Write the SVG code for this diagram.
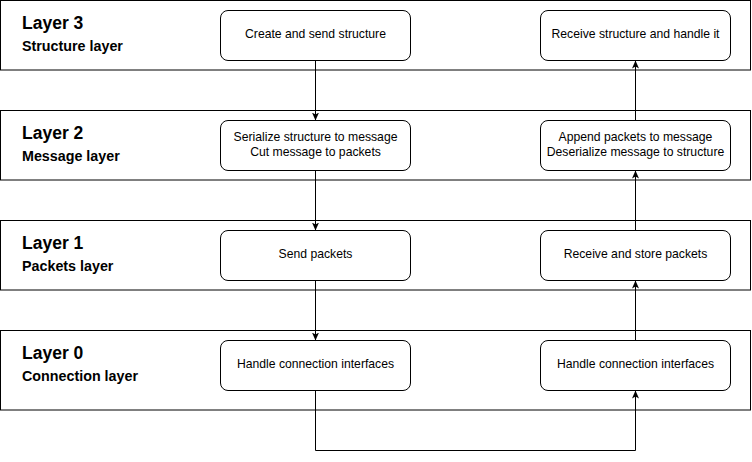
<svg xmlns="http://www.w3.org/2000/svg" width="752" height="462" viewBox="0 0 752 462">
<defs>
<style>
.layer{fill:#fff;stroke:#000;stroke-width:1}
.box{fill:#fff;stroke:#000;stroke-width:1}
.t1{font-family:"Liberation Sans",Arial,sans-serif;font-weight:bold;font-size:17.5px;fill:#000}
.t2{font-family:"Liberation Sans",Arial,sans-serif;font-weight:bold;font-size:14.3px;fill:#000}
.tx{font-family:"Liberation Sans",Arial,sans-serif;font-size:12.2px;fill:#000;text-anchor:middle}
.edge{fill:none;stroke:#000;stroke-width:1}
</style>
<marker id="arr" viewBox="0 0 8 8" refX="8" refY="4" markerWidth="8" markerHeight="8" markerUnits="userSpaceOnUse" orient="auto">
<path d="M0,0.5 L8,4 L0,7.5 L2,4 Z" fill="#000"/>
</marker>
</defs>
<g id="layer3">
<rect class="layer" x="0.5" y="0.5" width="750" height="69.5"/>
<text class="t1" x="22" y="29">Layer 3</text>
<text class="t2" x="22" y="50.5">Structure layer</text>
</g>
<g id="layer2">
<rect class="layer" x="0.5" y="110.5" width="750" height="69.5"/>
<text class="t1" x="22" y="139">Layer 2</text>
<text class="t2" x="22" y="160.5">Message layer</text>
</g>
<g id="layer1">
<rect class="layer" x="0.5" y="220.5" width="750" height="69.5"/>
<text class="t1" x="22" y="249">Layer 1</text>
<text class="t2" x="22" y="270.5">Packets layer</text>
</g>
<g id="layer0">
<rect class="layer" x="0.5" y="330.5" width="750" height="79.5"/>
<text class="t1" x="22" y="359">Layer 0</text>
<text class="t2" x="22" y="380.5">Connection layer</text>
</g>
<g id="create">
<rect class="box" x="220.5" y="10.5" width="190" height="50" rx="7.5"/>
<text class="tx" x="315.5" y="38.3">Create and send structure</text>
</g>
<g id="receive">
<rect class="box" x="540.5" y="10.5" width="190" height="50" rx="7.5"/>
<text class="tx" x="635.5" y="38.3">Receive structure and handle it</text>
</g>
<g id="serialize">
<rect class="box" x="220.5" y="120.5" width="190" height="50" rx="7.5"/>
<text class="tx" x="315.5" y="140.8">Serialize structure to message</text>
<text class="tx" x="315.5" y="156.3">Cut message to packets</text>
</g>
<g id="append">
<rect class="box" x="540.5" y="120.5" width="190" height="50" rx="7.5"/>
<text class="tx" x="635.5" y="140.8">Append packets to message</text>
<text class="tx" x="635.5" y="156.3">Deserialize message to structure</text>
</g>
<g id="send">
<rect class="box" x="220.5" y="230.5" width="190" height="50" rx="7.5"/>
<text class="tx" x="315.5" y="258.3">Send packets</text>
</g>
<g id="store">
<rect class="box" x="540.5" y="230.5" width="190" height="50" rx="7.5"/>
<text class="tx" x="635.5" y="258.3">Receive and store packets</text>
</g>
<g id="conn-left">
<rect class="box" x="220.5" y="340.5" width="190" height="50" rx="7.5"/>
<text class="tx" x="315.5" y="368.3">Handle connection interfaces</text>
</g>
<g id="conn-right">
<rect class="box" x="540.5" y="340.5" width="190" height="50" rx="7.5"/>
<text class="tx" x="635.5" y="368.3">Handle connection interfaces</text>
</g>
<g id="connectors">
<path class="edge" d="M315.5,60.5 V120.5" marker-end="url(#arr)"/>
<path class="edge" d="M315.5,170.5 V230.5" marker-end="url(#arr)"/>
<path class="edge" d="M315.5,280.5 V340.5" marker-end="url(#arr)"/>
<path class="edge" d="M315.5,390.5 V450.5 H635.5 V390.5" marker-end="url(#arr)"/>
<path class="edge" d="M635.5,340.5 V280.5" marker-end="url(#arr)"/>
<path class="edge" d="M635.5,230.5 V170.5" marker-end="url(#arr)"/>
<path class="edge" d="M635.5,120.5 V60.5" marker-end="url(#arr)"/>
</g>
</svg>
